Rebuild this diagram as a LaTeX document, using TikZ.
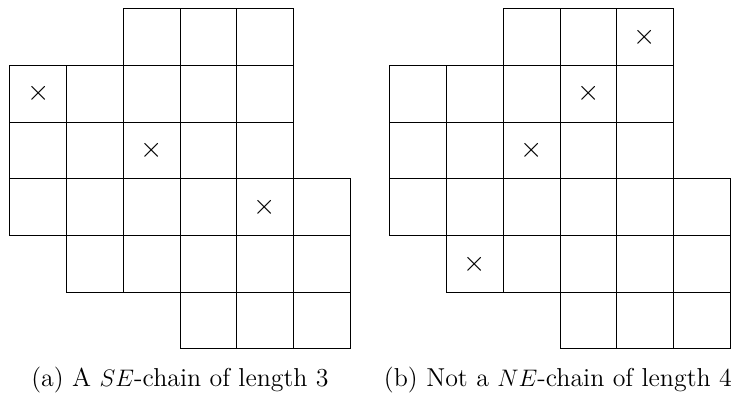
\documentclass[tikz,border=0pt]{standalone}
\begin{document}
\begin{tikzpicture}[x=1cm,y=-1cm,
  cellline/.style={draw=black, line width=0.5pt},
  xmk/.style={inner sep=0pt, font=\fontsize{13.5}{15}\selectfont},
  capt/.style={anchor=base, inner sep=0pt, font=\fontsize{13}{15}\selectfont}]
\useasboundingbox (0,0) rectangle (13.016,7.090);
\foreach \ox in {0.176,6.878}{
  \foreach \r/\a/\b in {0/2/4,1/0/4,2/0/4,3/0/5,4/1/5,5/3/5}{
    \foreach \c in {\a,...,\b}{
      \draw[cellline] (\ox+\c,0.153+\r) rectangle +(1,1);
    }
  }
}
% crosses, left
\node[xmk] (la) at (0.176+0.5,0.153+1.5) {$\times$};
\node[xmk] (lb) at (0.176+2.5,0.153+2.5) {$\times$};
\node[xmk] (lc) at (0.176+4.5,0.153+3.5) {$\times$};
% crosses, right
\node[xmk] (ra) at (6.878+4.5,0.153+0.5) {$\times$};
\node[xmk] (rb) at (6.878+3.5,0.153+1.5) {$\times$};
\node[xmk] (rc) at (6.878+2.5,0.153+2.5) {$\times$};
\node[xmk] (rd) at (6.878+1.5,0.153+4.5) {$\times$};
% captions
\node[capt] (capa) at (3.175,6.825) {(a) A $SE$-chain of length 3};
\node[capt] (capb) at (9.84,6.825) {(b) Not a $NE$-chain of length 4};
\end{tikzpicture}
\end{document}
